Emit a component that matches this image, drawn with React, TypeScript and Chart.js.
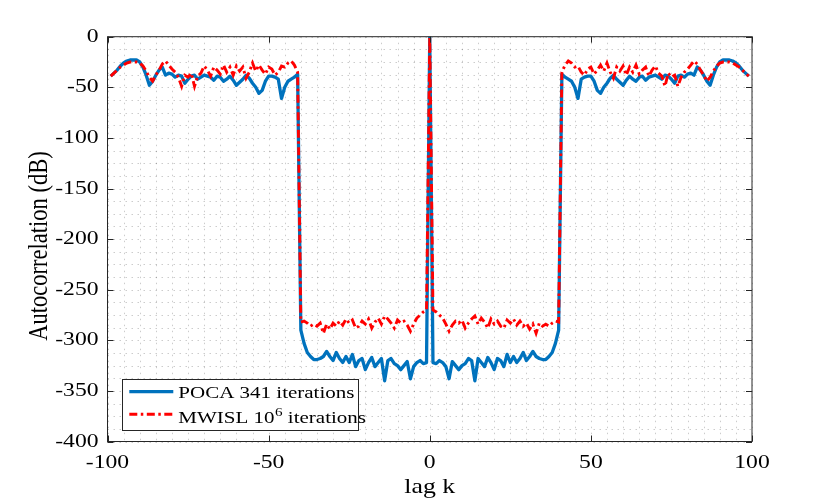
import React, { useEffect, useRef } from "react";
import { Chart, registerables } from "chart.js";

Chart.register(...registerables);

// Autocorrelation is symmetric in lag: values for lags k = 0..99
const lagsHalf: number[] = Array.from({ length: 100 }, (_, i) => i);

const pocaHalf: number[] = [
  0, -322, -323, -320, -322, -326, -338, -321, -325, -329,
  -325, -323, -318, -320, -340, -318, -322, -326, -317, -322,
  -329, -318, -320, -326, -314, -322, -316, -322, -318, -312,
  -320, -316, -311, -316, -318, -319, -319, -316, -312, -303,
  -290, -37, -40, -42, -44, -50, -61, -42, -40, -39,
  -39, -44, -53, -56, -50, -46, -41, -38, -42, -45,
  -48, -43, -39, -42, -44, -40, -39, -43, -40, -39,
  -38, -40, -42, -38, -39, -42, -46, -39, -38, -40,
  -37, -36, -38, -30, -33, -38, -44, -48, -38, -30,
  -25, -23, -23, -23, -24, -26, -29, -33, -36, -39,
];

const mwislHalf: number[] = [
  0, -270, -272, -275, -278, -284, -291, -285, -281, -283,
  -280, -288, -283, -279, -276, -284, -278, -282, -288, -279,
  -284, -281, -286, -288, -280, -283, -279, -285, -281, -286,
  -283, -289, -284, -293, -283, -286, -284, -286, -283, -281,
  -282, -35, -28, -24, -26, -30, -29, -35, -38, -32,
  -30, -37, -33, -28, -34, -26, -35, -41, -30, -34,
  -29, -38, -30, -35, -28, -37, -33, -30, -39, -33,
  -29, -36, -39, -49, -36, -40, -38, -49, -40, -35,
  -32, -28, -24, -27, -33, -38, -44, -40, -34, -29,
  -26, -25, -25, -25, -26, -28, -30, -33, -36, -39,
];

const xTickValues: number[] = [-100, -50, 0, 50, 100];
const yTickValues: number[] = [0, -50, -100, -150, -200, -250, -300, -350, -400];
const xMinorStep = 5;
const yMinorStep = 12.5;

const seriesNames = ["POCA 341 iterations", "MWISL 10", "6", " iterations"];
const xTitle = "lag k";
const yTitle = "Autocorrelation (dB)";

function fullSeries(half: number[]) {
  const pts: { x: number; y: number }[] = [];
  for (let i = half.length - 1; i >= 1; i--) pts.push({ x: -lagsHalf[i], y: half[i] });
  for (let i = 0; i < half.length; i++) pts.push({ x: lagsHalf[i], y: half[i] });
  return pts;
}

const BLUE = "#0072BD";
const RED = "#FF0000";
const RED_DASH = [8, 3.5, 2.5, 3.5];
const BLUE_W = 3.3;
const RED_W = 2.9;
const SX = 1.2;
const SERIF = '"Liberation Serif", "Times New Roman", serif';

function sText(
  ctx: CanvasRenderingContext2D,
  txt: string,
  x: number,
  y: number,
  align: CanvasTextAlign,
  baseline: CanvasTextBaseline,
  size: number
) {
  ctx.save();
  ctx.translate(x, y);
  ctx.scale(SX, 1);
  ctx.font = `${size}px ${SERIF}`;
  ctx.textAlign = align;
  ctx.textBaseline = baseline;
  ctx.fillText(txt, 0, 0);
  ctx.restore();
}

const framePlugin = {
  id: "frame",
  beforeDatasetsDraw(chart: any) {
    const { ctx, chartArea, scales } = chart;
    const { left, right, top, bottom } = chartArea;
    const xs = scales.x;
    const ys = scales.y;
    ctx.save();
    ctx.strokeStyle = "rgba(0,0,0,0.2)";
    ctx.lineWidth = 1;
    ctx.setLineDash([1.5, 4.5]);
    for (let v = xs.min; v <= xs.max + 1e-9; v += xMinorStep) {
      const px = Math.round(xs.getPixelForValue(v)) + 0.5;
      ctx.beginPath();
      ctx.moveTo(px, top);
      ctx.lineTo(px, bottom);
      ctx.stroke();
    }
    for (let v = ys.min; v <= ys.max + 1e-9; v += yMinorStep) {
      const py = Math.round(ys.getPixelForValue(v)) + 0.5;
      ctx.beginPath();
      ctx.moveTo(left, py);
      ctx.lineTo(right, py);
      ctx.stroke();
    }
    ctx.restore();
  },
  afterDatasetsDraw(chart: any) {
    const { ctx, chartArea, scales } = chart;
    const { left, right, top, bottom } = chartArea;
    const xs = scales.x;
    const ys = scales.y;
    ctx.save();
    // axes box
    ctx.strokeStyle = "#262626";
    ctx.lineWidth = 1;
    ctx.setLineDash([]);
    ctx.strokeRect(left, top, right - left, bottom - top);
    // inward ticks
    const tl = 6;
    ctx.beginPath();
    xTickValues.forEach((v) => {
      const px = Math.round(xs.getPixelForValue(v)) + 0.5;
      ctx.moveTo(px, bottom);
      ctx.lineTo(px, bottom - tl);
      ctx.moveTo(px, top);
      ctx.lineTo(px, top + tl);
    });
    yTickValues.forEach((v) => {
      const py = Math.round(ys.getPixelForValue(v)) + 0.5;
      ctx.moveTo(left, py);
      ctx.lineTo(left + tl, py);
      ctx.moveTo(right, py);
      ctx.lineTo(right - tl, py);
    });
    ctx.stroke();

    // tick labels
    ctx.fillStyle = "#000";
    xTickValues.forEach((v) => {
      sText(ctx, String(v), xs.getPixelForValue(v), bottom + 26.5, "center", "alphabetic", 19.7);
    });
    yTickValues.forEach((v) => {
      sText(ctx, String(v), left - 9, ys.getPixelForValue(v), "right", "middle", 19.7);
    });

    // axis titles
    sText(ctx, xTitle, (left + right) / 2, 493.3, "center", "alphabetic", 21.5);
    ctx.save();
    ctx.translate(46.5, 246);
    ctx.rotate(-Math.PI / 2);
    ctx.scale(1, SX);
    ctx.font = `22.5px ${SERIF}`;
    ctx.textAlign = "center";
    ctx.textBaseline = "alphabetic";
    ctx.fillText(yTitle, 0, 0);
    ctx.restore();

    // legend
    const bx = 122.5, by = 379.5, bw = 236, bh = 51;
    ctx.fillStyle = "#fff";
    ctx.fillRect(bx, by, bw, bh);
    ctx.strokeStyle = "#262626";
    ctx.lineWidth = 1;
    ctx.strokeRect(bx, by, bw, bh);

    ctx.lineWidth = BLUE_W;
    ctx.strokeStyle = BLUE;
    ctx.beginPath();
    ctx.moveTo(129.3, 391.7);
    ctx.lineTo(173.3, 391.7);
    ctx.stroke();
    ctx.lineWidth = RED_W;
    ctx.strokeStyle = RED;
    ctx.setLineDash(RED_DASH);
    ctx.beginPath();
    ctx.moveTo(129.3, 414.3);
    ctx.lineTo(173.3, 414.3);
    ctx.stroke();
    ctx.setLineDash([]);

    ctx.fillStyle = "#000";
    const fs = 17.5;
    sText(ctx, seriesNames[0], 178.3, 398.4, "left", "alphabetic", fs);
    ctx.font = `${fs}px ${SERIF}`;
    let tx = 178.3;
    sText(ctx, seriesNames[1], tx, 423.3, "left", "alphabetic", fs);
    tx += ctx.measureText(seriesNames[1]).width * SX;
    const sup = fs * 0.72;
    sText(ctx, seriesNames[2], tx + 0.5, 416.3, "left", "alphabetic", sup);
    ctx.font = `${sup}px ${SERIF}`;
    tx += ctx.measureText(seriesNames[2]).width * SX + 0.5;
    sText(ctx, seriesNames[3], tx, 423.3, "left", "alphabetic", fs);
    ctx.restore();
  },
};

export default function App() {
  const ref = useRef<HTMLCanvasElement | null>(null);
  useEffect(() => {
    if (!ref.current) return;
    const chart = new Chart(ref.current, {
      type: "line",
      data: {
        datasets: [
          {
            label: "MWISL",
            data: fullSeries(mwislHalf),
            borderColor: RED,
            borderWidth: RED_W,
            borderDash: RED_DASH,
            pointRadius: 0,
            tension: 0,
            fill: false,
            order: 0,
          },
          {
            label: "POCA",
            data: fullSeries(pocaHalf),
            borderColor: BLUE,
            borderWidth: BLUE_W,
            borderJoinStyle: "round",
            pointRadius: 0,
            tension: 0,
            fill: false,
            order: 1,
          },
        ],
      },
      options: {
        animation: false,
        responsive: false,
        maintainAspectRatio: false,
        devicePixelRatio: 1,
        layout: { padding: { left: 107.5, right: 78, top: 36.7, bottom: 56.5 } },
        scales: {
          x: { type: "linear", min: -100, max: 100, display: false },
          y: { type: "linear", min: -400, max: 0, display: false },
        },
        plugins: { legend: { display: false }, tooltip: { enabled: false } },
      },
      plugins: [framePlugin],
    } as any);
    return () => chart.destroy();
  }, []);
  return (
    <div style={{ position: "fixed", left: 0, top: 0, width: 830, height: 498, background: "#fff" }}>
      <canvas ref={ref} width={830} height={498} style={{ display: "block" }} />
    </div>
  );
}
